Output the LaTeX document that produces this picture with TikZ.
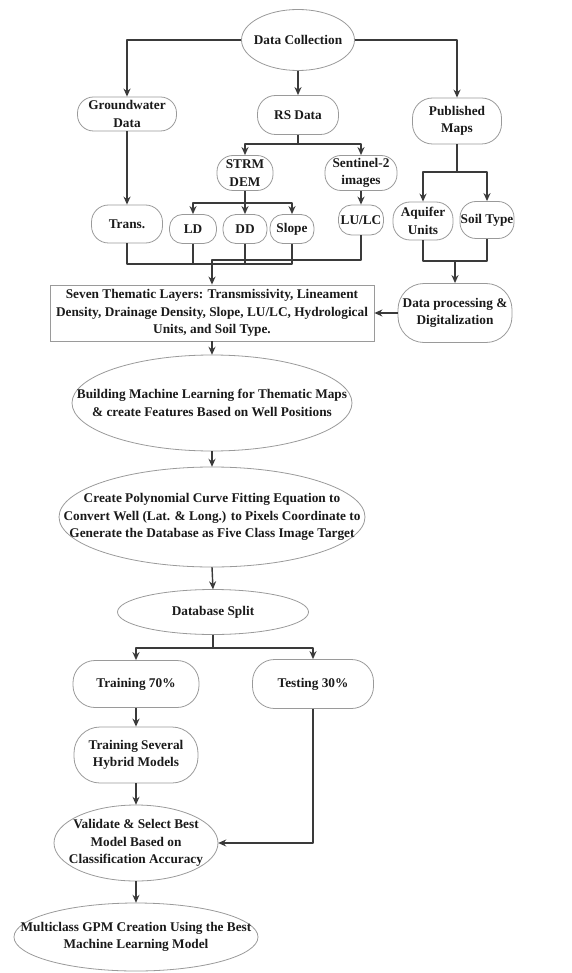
\documentclass[tikz,border=0pt]{standalone}
\usepackage{fontspec}
\setmainfont{Liberation Serif}
\usetikzlibrary{arrows.meta}
\definecolor{outc}{HTML}{9A9A9A}
\definecolor{linec}{HTML}{3A3A3A}
\definecolor{txt}{HTML}{1A1A1A}
\newcommand\txtfont{\fontsize{13.3}{17.5}\selectfont\bfseries}
\tikzset{
  base/.style={inner sep=0pt, align=center, font=\txtfont, text=txt},
  outl/.style={draw=outc, line width=0.8pt},
  ovl/.style 2 args={base, rectangle, minimum width=#1, minimum height=#2,
     append after command={\pgfextra{\draw[outl] (\tikzlastnode.center) ellipse [x radius=#1*0.5pt, y radius=#2*0.5pt];}}},
  std/.style n args={3}{base, rectangle, outl, rounded corners=#3, minimum width=#1, minimum height=#2},
  boxn/.style 2 args={base, rectangle, outl, minimum width=#1, minimum height=#2},
  ln/.style={draw=linec, line width=1.4pt, line join=round},
  arr/.style={ln, -{Stealth[length=8pt,width=7pt]}},
}
\begin{document}
\begin{tikzpicture}[x=1pt,y=-1pt]
\useasboundingbox (0,0) rectangle (572,973);
% nodes
\node[ovl={113}{61}] (dc) at (298,40) {Data Collection};
\node[std={99}{34}{16}] (gw) at (127,114) {Groundwater\\Data};
\node[std={81}{39}{18}] (rs) at (298,115) {RS Data};
\node[std={89}{46}{20}] (pm) at (457,121) {Published\\Maps};
\node[std={56}{35}{16}] (strm) at (245,173) {STRM\\DEM};
\node[std={72}{35}{16}] (sent) at (361,173) {Sentinel-2\\images};
\node[std={71}{38}{17}] (trans) at (127,224) {Trans.};
\node[std={47}{29}{13}] (ld) at (193,229) {LD};
\node[std={44}{29}{13}] (dd) at (245,229) {DD};
\node[std={44}{29}{13}] (slope) at (292,229) {Slope};
\node[std={45}{30}{13}] (lulc) at (361,220) {LU/LC};
\node[std={60}{38}{17}] (aq) at (423,221) {Aquifer\\Units};
\node[std={54}{37}{16}] (soil) at (487,220) {Soil Type};
\node[std={114}{59}{26}] (dp) at (455,313) {Data processing \&\\Digitalization};
\node[boxn={324}{56}] (seven) at (212,313) {Seven Thematic Layers: Transmissivity, Lineament\\Density, Drainage Density, Slope, LU/LC, Hydrological\\Units, and Soil Type.};
\node[ovl={280}{96}] (bml) at (212,403) {Building Machine Learning for Thematic Maps\\\& create Features Based on Well Positions};
\node[ovl={306}{100}] (cp) at (212,517) {Create Polynomial Curve Fitting Equation to\\Convert Well (Lat. \& Long.) to Pixels Coordinate to\\Generate the Database as Five Class Image Target};
\node[ovl={191}{45}] (ds) at (213,612) {Database Split};
\node[std={126}{47}{22}] (tr) at (136,684) {Training 70\%};
\node[std={121}{49}{22}] (te) at (313,684) {Testing 30\%};
\node[std={124}{56}{26}] (tsh) at (136,755) {Training Several\\Hybrid Models};
\node[ovl={164}{76}] (val) at (136,843) {Validate \& Select Best\\Model Based on\\Classification Accuracy};
\node[ovl={244}{68}] (mc) at (136,937) {Multiclass GPM Creation Using the Best\\Machine Learning Model};
% junction coordinates
\coordinate (j1) at (298,144);
\coordinate (j2) at (457,172);
\coordinate (j3) at (245,203);
\coordinate (b1) at (127,264);
\coordinate (b2) at (292,264);
\coordinate (j5) at (212,260);
\coordinate (j6) at (455,261);
\coordinate (j7) at (213,648);
% connectors
\draw[arr] (dc.west) -| (gw.north);
\draw[arr] (dc.south) -- (rs.north);
\draw[arr] (dc.east) -| (pm.north);
\draw[ln] (rs.south) -- (j1);
\draw[arr] (j1) -| (strm.north);
\draw[arr] (j1) -| (sent.north);
\draw[ln] (pm.south) -- (j2);
\draw[arr] (j2) -| (aq.north);
\draw[arr] (j2) -| (soil.north);
\draw[arr] (gw.south) -- (trans.north);
\draw[ln] (strm.south) -- (j3);
\draw[arr] (j3) -| (ld.north);
\draw[arr] (j3) -- (dd.north);
\draw[arr] (j3) -| (slope.north);
\draw[arr] (sent.south) -- (lulc.north);
\draw[ln] (trans.south) -- (b1) -- (b2) -- (slope.south);
\draw[ln] (ld.south) -- (ld.south |- b1);
\draw[ln] (dd.south) -- (dd.south |- b1);
\draw[arr] (lulc.south) |- (j5) -- (seven.north);
\draw[ln] (aq.south) |- (j6) -| (soil.south);
\draw[arr] (j6) -- (dp.north);
\draw[arr] (dp.west) -- (seven.east);
\draw[arr] (seven.south) -- (bml.north);
\draw[arr] (bml.south) -- (cp.north);
\draw[arr] (cp.south) -- (ds.north);
\draw[ln] (ds.south) -- (j7);
\draw[arr] (j7) -| (tr.north);
\draw[arr] (j7) -| (te.north);
\draw[arr] (tr.south) -- (tsh.north);
\draw[arr] (tsh.south) -- (val.north);
\draw[arr] (te.south) |- (val.east);
\draw[arr] (val.south) -- (mc.north);
\end{tikzpicture}
\end{document}
